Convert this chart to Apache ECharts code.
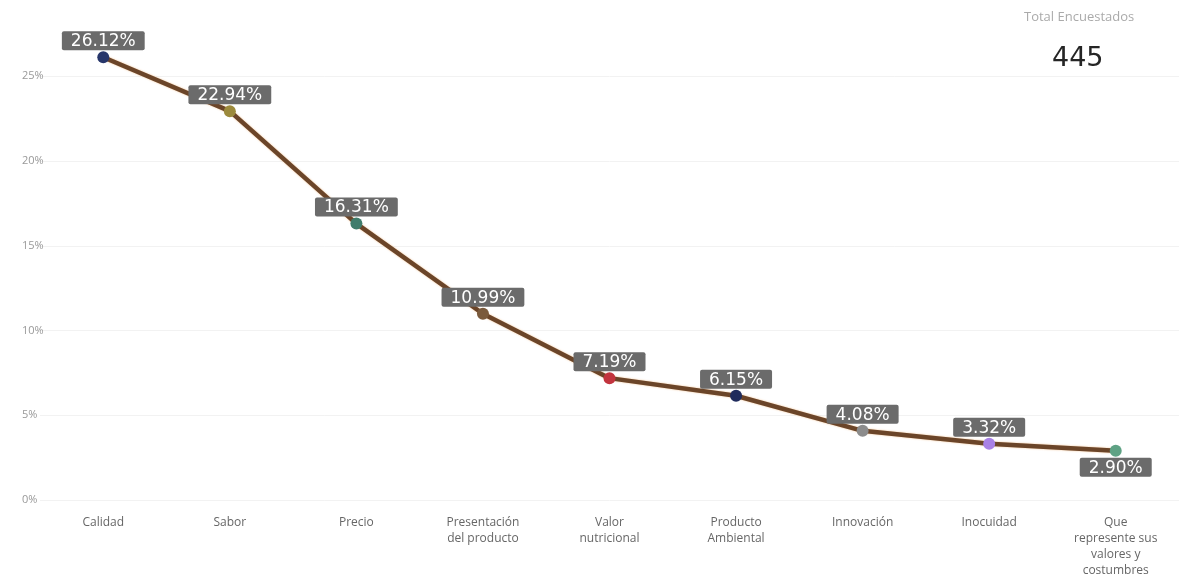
<!DOCTYPE html>
<html>
<head>
<meta charset="utf-8">
<script src="https://cdn.jsdelivr.net/npm/echarts@6/dist/echarts.min.js"></script>
<style>
html,body{margin:0;padding:0;background:#fff;}
#chart{width:1179px;height:588px;}
</style>
</head>
<body>
<div id="chart"></div>
<script>
const categories = ['Calidad','Sabor','Precio','Presentación\ndel producto','Valor\nnutricional','Producto\nAmbiental','Innovación','Inocuidad','Que\nrepresente sus\nvalores y\ncostumbres'];
const values = [26.12, 22.94, 16.31, 10.99, 7.19, 6.15, 4.08, 3.32, 2.90];
const markerColors = ['#27366a','#9c8a3c','#3f7c6b','#7a5a3c','#c2343e','#1f2b5c','#8c8c8c','#a981e6','#5ea284'];
const labelPositions = ['top','top','top','top','top','top','top','top','bottom'];
const yTicks = [0,5,10,15,20,25];
const totalLabel = 'Total Encuestados';
const totalValue = '445';

const chart = echarts.init(document.getElementById('chart'));
chart.setOption({
  animation:false,
  backgroundColor:'#ffffff',
  grid:{left:40, right:0, top:0, bottom:88, containLabel:false},
  xAxis:{
    type:'category',
    data:categories,
    boundaryGap:true,
    axisLine:{show:false},
    axisTick:{show:false},
    axisLabel:{color:'#666', fontSize:12, fontFamily:'Open Sans, sans-serif', margin:15, lineHeight:16, interval:0}
  },
  yAxis:{
    type:'value',
    min:0, max:29.5, interval:5,
    axisLine:{show:false},
    axisTick:{show:false},
    axisLabel:{color:'#999', fontSize:11, fontFamily:'Open Sans, sans-serif', align:'left', margin:18,
      showMaxLabel:false,
      formatter:v => yTicks.includes(v) ? v + '%' : ''},
    splitLine:{showMaxLine:false, lineStyle:{color:'#f2f2f2', width:1}}
  },
  graphic:[
    {type:'text', left:1024, top:11, style:{text:totalLabel, fill:'#aaaaaa', font:'13px "Open Sans", sans-serif'}},
    {type:'text', left:1052, top:45, style:{text:totalValue, fill:'#252525', font:'27px "DejaVu Sans", sans-serif'}}
  ],
  series:[{
    type:'line',
    data:values.map((v,i)=>({
      value:v,
      itemStyle:{color:markerColors[i]},
      label:{position:labelPositions[i]}
    })),
    symbol:'circle',
    symbolSize:12,
    lineStyle:{color:'#6b4529', width:4.5, shadowColor:'rgba(230,150,70,0.6)', shadowBlur:2},
    label:{
      show:true,
      distance:1,
      formatter:p => p.value.toFixed(2) + '%',
      color:'#ffffff',
      fontSize:17,
      fontFamily:'DejaVu Sans, sans-serif',
      backgroundColor:'#6b6b6b',
      padding:[2,9,0,9],
      borderRadius:2
    },
    z:3
  }]
});
</script>
</body>
</html>
